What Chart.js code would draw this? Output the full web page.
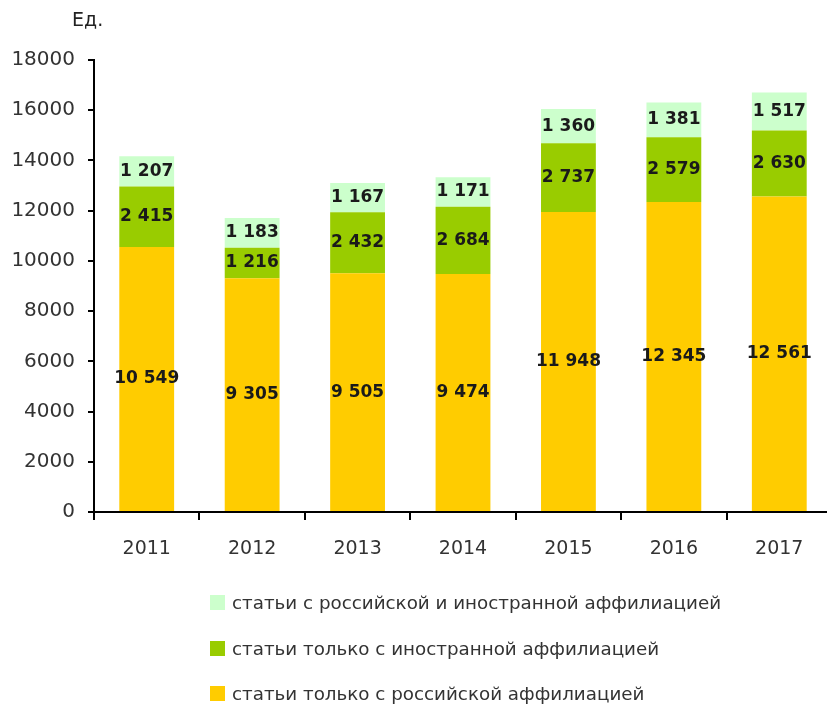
<!DOCTYPE html>
<html lang="ru">
<head>
    <meta charset="UTF-8">
    <style>
        body {
            margin: 0;
            background-color: #ffffff;
            overflow: hidden;
            font-family: 'DejaVu Sans', sans-serif;
        }
        .wrap {
            position: relative;
            width: 827px;
            height: 705px;
        }
        canvas {
            position: absolute;
            left: 0;
            top: 0;
        }
        .unit {
            position: absolute;
            left: 72px;
            top: 8px;
            font-size: 19px;
            color: #222;
        }
        .legend {
            position: absolute;
            left: 210px;
            top: 592px;
            list-style-type: none;
            margin: 0;
            padding: 0;
        }
        .legend li {
            height: 45.5px;
            font-size: 18.3px;
            color: #333;
            white-space: nowrap;
        }
        .legend span {
            display: inline-block;
            width: 15px;
            height: 15px;
            margin-right: 7px;
            vertical-align: -1px;
        }
    </style>
    <script src="https://cdn.jsdelivr.net/npm/chart.js"></script>
    <title>Статьи</title>
</head>
<body>
    <div class="wrap">
        <canvas id="grafico" width="832" height="705" style="width:832px;height:705px"></canvas>
        <div class="unit">Ед.</div>
        <ul class="legend" id="legenda"></ul>
    </div>

    <script>
        const anos = ["2011", "2012", "2013", "2014", "2015", "2016", "2017"];
        const soRussa = [10549, 9305, 9505, 9474, 11948, 12345, 12561];
        const soEstrangeira = [2415, 1216, 2432, 2684, 2737, 2579, 2630];
        const ambas = [1207, 1183, 1167, 1171, 1360, 1381, 1517];
        const nomes = [
            "статьи только с российской аффилиацией",
            "статьи только с иностранной аффилиацией",
            "статьи с российской и иностранной аффилиацией"
        ];
        const cores = ["#ffcc00", "#99cc00", "#ccffcc"];

        function formatar(v) {
            return String(v).replace(/\B(?=(\d{3})+(?!\d))/g, " ");
        }

        // rótulos no meio de cada segmento
        const rotulos = {
            id: "rotulos",
            afterDatasetsDraw(chart) {
                const ctx = chart.ctx;
                ctx.save();
                ctx.font = "bold 17px 'DejaVu Sans'";
                ctx.fillStyle = "#1a1a1a";
                ctx.textAlign = "center";
                ctx.textBaseline = "middle";
                chart.data.datasets.forEach((ds, i) => {
                    chart.getDatasetMeta(i).data.forEach((bar, j) => {
                        ctx.fillText(formatar(ds.data[j]), bar.x, (bar.y + bar.base) / 2);
                    });
                });
                ctx.restore();
            }
        };

        const ctx = document.getElementById("grafico").getContext("2d");
        new Chart(ctx, {
            type: "bar",
            data: {
                labels: anos,
                datasets: [
                    { label: nomes[0], data: soRussa, backgroundColor: cores[0] },
                    { label: nomes[1], data: soEstrangeira, backgroundColor: cores[1] },
                    { label: nomes[2], data: ambas, backgroundColor: cores[2] }
                ]
            },
            options: {
                responsive: false,
                animation: false,
                layout: { padding: { top: 60, right: 0, left: 0, bottom: 0 } },
                datasets: {
                    bar: { barPercentage: 0.52, categoryPercentage: 1 }
                },
                plugins: {
                    legend: { display: false },
                    tooltip: { enabled: false }
                },
                scales: {
                    x: {
                        stacked: true,
                        border: { color: "#000", width: 2 },
                        grid: { drawOnChartArea: false, color: "#000", tickLength: 8, lineWidth: 2 },
                        ticks: { color: "#333", padding: 18, font: { family: "DejaVu Sans", size: 19 } },
                        afterFit(scale) { scale.height = 705 - 512; }
                    },
                    y: {
                        stacked: true,
                        min: 0,
                        max: 18000,
                        border: { color: "#000", width: 2 },
                        grid: { drawOnChartArea: false, color: "#000", tickLength: 6, lineWidth: 2 },
                        ticks: {
                            stepSize: 2000,
                            color: "#333",
                            padding: 13,
                            font: { family: "DejaVu Sans", size: 20 },
                            callback: (v) => String(v)
                        },
                        afterFit(scale) { scale.width = 94; }
                    }
                }
            },
            plugins: [rotulos]
        });

        const legenda = document.getElementById("legenda");
        for (let i = nomes.length - 1; i >= 0; i--) {
            const item = document.createElement("li");
            const caixa = document.createElement("span");
            caixa.style.backgroundColor = cores[i];
            item.appendChild(caixa);
            item.appendChild(document.createTextNode(nomes[i]));
            legenda.appendChild(item);
        }
    </script>
</body>
</html>
